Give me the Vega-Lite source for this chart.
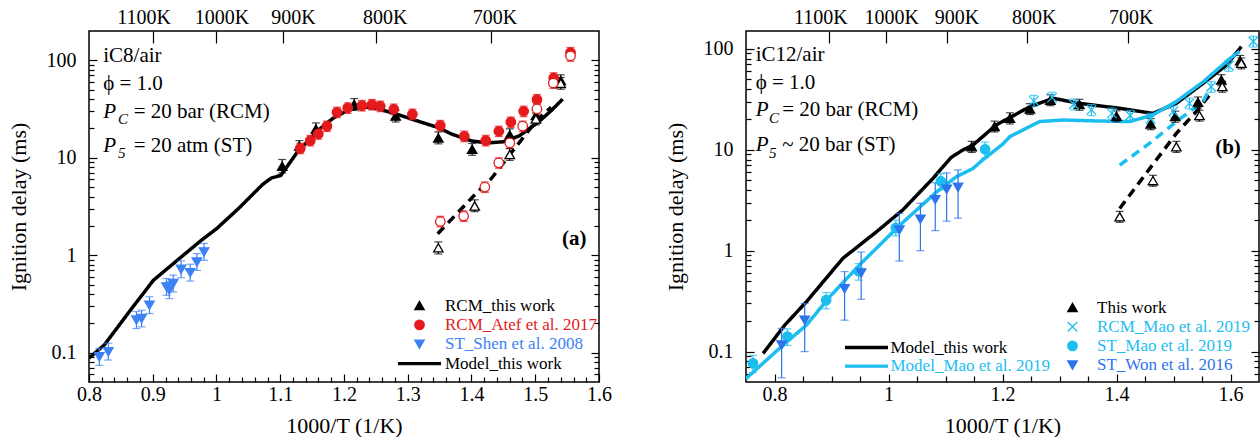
{
"$schema": "https://vega.github.io/schema/vega-lite/v6.json",
"background": "white",
"padding": {"left": 6, "top": 6, "right": 0, "bottom": 0},
"config": {
 "font": "Liberation Serif",
 "view": {"stroke": "black", "strokeWidth": 1.5},
 "axis": {"domain": false, "grid": false, "labelFont": "Liberation Serif", "titleFont": "Liberation Serif", "labelFontSize": 20, "titleFontSize": 22, "titleFontWeight": "normal", "labelColor": "black", "titleColor": "black", "tickColor": "black", "tickWidth": 1.2, "labelFlush": false, "labelOverlap": false},
 "legend": {"labelFont": "Liberation Serif", "labelFontSize": 17, "labelLimit": 400},
 "text": {"font": "Liberation Serif"}
},
"datasets": {
 "lines8": [
  {"s":"m","x":0.800,"y":0.088},{"s":"m","x":0.824,"y":0.120},{"s":"m","x":0.867,"y":0.284},{"s":"m","x":0.901,"y":0.553},
  {"s":"m","x":0.948,"y":1.00},{"s":"m","x":0.976,"y":1.42},{"s":"m","x":1.000,"y":1.87},{"s":"m","x":1.034,"y":2.99},
  {"s":"m","x":1.072,"y":5.3},{"s":"m","x":1.086,"y":6.2},{"s":"m","x":1.101,"y":6.6},{"s":"m","x":1.127,"y":11.5},
  {"s":"m","x":1.160,"y":19.3},{"s":"m","x":1.183,"y":25.5},{"s":"m","x":1.208,"y":31.2},{"s":"m","x":1.228,"y":33.4},
  {"s":"m","x":1.252,"y":32.0},{"s":"m","x":1.283,"y":28.0},{"s":"m","x":1.314,"y":24.0},{"s":"m","x":1.347,"y":20.5},
  {"s":"m","x":1.369,"y":17.5},{"s":"m","x":1.400,"y":14.9},{"s":"m","x":1.425,"y":14.2},{"s":"m","x":1.450,"y":14.6},
  {"s":"m","x":1.475,"y":16.8},{"s":"m","x":1.504,"y":23.0},{"s":"m","x":1.524,"y":30.0},{"s":"m","x":1.543,"y":40.0},
  {"s":"d","x":1.347,"y":1.66},{"s":"d","x":1.404,"y":4.1},{"s":"d","x":1.431,"y":6.1},{"s":"d","x":1.467,"y":12.3},
  {"s":"d","x":1.504,"y":25.0},{"s":"d","x":1.525,"y":33.0}
 ],
 "pts8": [
  {"s":"tw","x":1.103,"y":8.2,"lo":7.0,"hi":9.6},{"s":"tw","x":1.130,"y":13.2,"lo":11.5,"hi":15.0},{"s":"tw","x":1.156,"y":19.8,"lo":17.2,"hi":22.8},
  {"s":"tw","x":1.216,"y":35.2,"lo":30.6,"hi":40.5},{"s":"tw","x":1.281,"y":26.8,"lo":23.3,"hi":30.8},{"s":"tw","x":1.348,"y":16.0,"lo":13.9,"hi":18.4},
  {"s":"tw","x":1.401,"y":12.2,"lo":10.6,"hi":14.0},{"s":"tw","x":1.460,"y":17.2,"lo":15.0,"hi":19.8},{"s":"tw","x":1.501,"y":27.1,"lo":23.6,"hi":31.2},
  {"s":"tw","x":1.540,"y":62,"lo":54,"hi":71},
  {"s":"two","x":1.348,"y":1.19,"lo":1.03,"hi":1.37},{"s":"two","x":1.405,"y":3.2,"lo":2.8,"hi":3.7},{"s":"two","x":1.460,"y":10.8,"lo":9.4,"hi":12.4},
  {"s":"two","x":1.501,"y":25,"lo":21.8,"hi":28.8},{"s":"two","x":1.540,"y":58,"lo":50.5,"hi":66.7},
  {"s":"atef","x":1.1315,"y":12.5,"lo":11.0,"hi":14.1},{"s":"atef","x":1.1471,"y":15.0,"lo":13.2,"hi":17.0},{"s":"atef","x":1.1597,"y":17.6,"lo":15.5,"hi":19.9},
  {"s":"atef","x":1.1733,"y":21.1,"lo":18.6,"hi":23.8},{"s":"atef","x":1.189,"y":29.3,"lo":25.8,"hi":33.1},{"s":"atef","x":1.2058,"y":32.5,"lo":28.6,"hi":36.7},
  {"s":"atef","x":1.2282,"y":34.3,"lo":30.2,"hi":38.8},{"s":"atef","x":1.2439,"y":35.1,"lo":30.9,"hi":39.7},{"s":"atef","x":1.2569,"y":33.8,"lo":29.7,"hi":38.2},
  {"s":"atef","x":1.2781,"y":31.5,"lo":27.7,"hi":35.6},{"s":"atef","x":1.3073,"y":28.0,"lo":24.6,"hi":31.6},{"s":"atef","x":1.3511,"y":21.4,"lo":18.8,"hi":24.2},
  {"s":"atef","x":1.3887,"y":16.6,"lo":14.6,"hi":18.8},{"s":"atef","x":1.4223,"y":15.0,"lo":13.2,"hi":17.0},{"s":"atef","x":1.4428,"y":18.7,"lo":16.5,"hi":21.1},
  {"s":"atef","x":1.4617,"y":23.2,"lo":20.4,"hi":26.2},{"s":"atef","x":1.4818,"y":30.0,"lo":26.4,"hi":33.9},{"s":"atef","x":1.5027,"y":39.5,"lo":34.8,"hi":44.6},
  {"s":"atef","x":1.5289,"y":65.9,"lo":58.0,"hi":74.5},{"s":"atef","x":1.5553,"y":120,"lo":105.6,"hi":135.6},
  {"s":"atefo","x":1.3511,"y":2.22,"lo":1.95,"hi":2.51},{"s":"atefo","x":1.3877,"y":2.52,"lo":2.22,"hi":2.85},{"s":"atefo","x":1.4209,"y":5.0,"lo":4.4,"hi":5.65},
  {"s":"atefo","x":1.4428,"y":8.87,"lo":7.8,"hi":10.0},{"s":"atefo","x":1.4601,"y":14.2,"lo":12.5,"hi":16.0},{"s":"atefo","x":1.4803,"y":21.1,"lo":18.6,"hi":23.8},
  {"s":"atefo","x":1.5027,"y":31.7,"lo":27.9,"hi":35.8},{"s":"atefo","x":1.5283,"y":58.5,"lo":51.5,"hi":66.1},{"s":"atefo","x":1.5553,"y":111,"lo":97.7,"hi":125.4},
  {"s":"shen","x":0.8162,"y":0.0906,"lo":0.074,"hi":0.111},{"s":"shen","x":0.8303,"y":0.102,"lo":0.084,"hi":0.125},{"s":"shen","x":0.8744,"y":0.216,"lo":0.177,"hi":0.264},
  {"s":"shen","x":0.8825,"y":0.224,"lo":0.184,"hi":0.273},{"s":"shen","x":0.8949,"y":0.307,"lo":0.252,"hi":0.375},{"s":"shen","x":0.9216,"y":0.473,"lo":0.388,"hi":0.577},
  {"s":"shen","x":0.9259,"y":0.438,"lo":0.359,"hi":0.534},{"s":"shen","x":0.9321,"y":0.512,"lo":0.42,"hi":0.625},{"s":"shen","x":0.9445,"y":0.717,"lo":0.588,"hi":0.875},
  {"s":"shen","x":0.9588,"y":0.662,"lo":0.543,"hi":0.808},{"s":"shen","x":0.9693,"y":0.851,"lo":0.698,"hi":1.04},{"s":"shen","x":0.9805,"y":1.08,"lo":0.886,"hi":1.32}
 ],
 "ann8": [
  {"x":0.8223,"y":111,"t":"iC8/air"},{"x":0.8223,"y":57.2,"t":"ϕ = 1.0"},
  {"x":0.8700,"y":29.7,"t":"= 20 bar (RCM)"},{"x":0.8700,"y":13.3,"t":"= 20 atm (ST)"}
 ],
 "p8": [{"x":0.8223,"y":29.7,"t":"P"},{"x":0.8223,"y":13.3,"t":"P"}],
 "sub8": [{"x":0.8453,"y":25,"t":"C"},{"x":0.8453,"y":11.2,"t":"5"}],
 "lab8": [{"x":1.561,"y":1.45,"t":"(a)"}],
 "leg8": [
  {"entry":"RCM_this work","x":1.0,"y":1.0},{"entry":"RCM_Atef et al. 2017","x":1.0,"y":1.0},
  {"entry":"ST_Shen et al. 2008","x":1.0,"y":1.0},{"entry":"Model_this work","x":1.0,"y":1.0}
 ],
 "lines12": [
  {"s":"mb","x":0.780,"y":0.096},{"s":"mb","x":0.818,"y":0.183},{"s":"mb","x":0.856,"y":0.312},{"s":"mb","x":0.920,"y":0.84},
  {"s":"mb","x":0.979,"y":1.54},{"s":"mb","x":1.025,"y":2.53},{"s":"mb","x":1.078,"y":5.2},{"s":"mb","x":1.110,"y":8.4},
  {"s":"mb","x":1.130,"y":9.9},{"s":"mb","x":1.148,"y":11.1},{"s":"mb","x":1.189,"y":17.6},{"s":"mb","x":1.248,"y":26.7},
  {"s":"mb","x":1.289,"y":32.3},{"s":"mb","x":1.335,"y":28.8},{"s":"mb","x":1.406,"y":25.7},{"s":"mb","x":1.464,"y":22.9},
  {"s":"mb","x":1.505,"y":28.8},{"s":"mb","x":1.552,"y":45.5},{"s":"mb","x":1.593,"y":69},{"s":"mb","x":1.619,"y":105},
  {"s":"mc","x":0.750,"y":0.054},{"s":"mc","x":0.815,"y":0.116},{"s":"mc","x":0.856,"y":0.183},{"s":"mc","x":0.897,"y":0.35},
  {"s":"mc","x":0.952,"y":0.75},{"s":"mc","x":1.020,"y":1.79},{"s":"mc","x":1.084,"y":3.8},{"s":"mc","x":1.119,"y":5.4},
  {"s":"mc","x":1.148,"y":6.5},{"s":"mc","x":1.166,"y":8.0},{"s":"mc","x":1.200,"y":11.3},{"s":"mc","x":1.213,"y":13.5},
  {"s":"mc","x":1.265,"y":19.0},{"s":"mc","x":1.306,"y":19.7},{"s":"mc","x":1.360,"y":19.3},{"s":"mc","x":1.423,"y":19.0},
  {"s":"mc","x":1.464,"y":22.1},{"s":"mc","x":1.505,"y":30},{"s":"mc","x":1.552,"y":47},{"s":"mc","x":1.599,"y":80},{"s":"mc","x":1.616,"y":94},
  {"s":"db","x":1.4056,"y":2.62},{"s":"db","x":1.4583,"y":6.5},{"s":"db","x":1.505,"y":14.5},{"s":"db","x":1.540,"y":23.9},{"s":"db","x":1.5635,"y":34.9},
  {"s":"dc","x":1.4056,"y":7.05},{"s":"dc","x":1.4583,"y":11.6},{"s":"dc","x":1.505,"y":19.0},{"s":"dc","x":1.5518,"y":30},{"s":"dc","x":1.5635,"y":40}
 ],
 "pts12": [
  {"s":"tw","x":1.146,"y":10.7,"lo":9.4,"hi":12.1},{"s":"tw","x":1.186,"y":17.0,"lo":15.0,"hi":19.2},{"s":"tw","x":1.213,"y":20.5,"lo":18.0,"hi":23.2},
  {"s":"tw","x":1.248,"y":25.3,"lo":22.3,"hi":28.6},{"s":"tw","x":1.284,"y":31.0,"lo":27.3,"hi":35.0},{"s":"tw","x":1.335,"y":28.0,"lo":24.6,"hi":31.6},
  {"s":"tw","x":1.400,"y":21.5,"lo":18.9,"hi":24.3},{"s":"tw","x":1.460,"y":18.0,"lo":15.8,"hi":20.3},{"s":"tw","x":1.503,"y":21.3,"lo":18.7,"hi":24.1},
  {"s":"tw","x":1.543,"y":29.5,"lo":26.0,"hi":33.3},{"s":"tw","x":1.584,"y":49,"lo":43.1,"hi":55.4},{"s":"tw","x":1.617,"y":76,"lo":66.9,"hi":85.9},
  {"s":"two","x":1.4056,"y":2.17,"lo":1.91,"hi":2.45},{"s":"two","x":1.464,"y":4.94,"lo":4.35,"hi":5.58},{"s":"two","x":1.505,"y":10.7,"lo":9.4,"hi":12.1},
  {"s":"two","x":1.5456,"y":21.8,"lo":19.2,"hi":24.6},{"s":"two","x":1.5856,"y":42.2,"lo":37.1,"hi":47.7},{"s":"two","x":1.619,"y":71.8,"lo":63.2,"hi":81.1},
  {"s":"maor","x":1.255,"y":30.5,"lo":26.8,"hi":34.5},{"s":"maor","x":1.287,"y":32.8,"lo":28.9,"hi":37.1},{"s":"maor","x":1.325,"y":28.2,"lo":24.8,"hi":31.9},
  {"s":"maor","x":1.356,"y":24.8,"lo":21.8,"hi":28.0},{"s":"maor","x":1.392,"y":22.9,"lo":20.2,"hi":25.9},{"s":"maor","x":1.424,"y":21.8,"lo":19.2,"hi":24.6},
  {"s":"maor","x":1.460,"y":20.3,"lo":17.9,"hi":22.9},{"s":"maor","x":1.500,"y":24.0,"lo":21.1,"hi":27.1},{"s":"maor","x":1.528,"y":28.8,"lo":25.3,"hi":32.5},
  {"s":"maor","x":1.566,"y":42,"lo":37,"hi":47.5},{"s":"maor","x":1.597,"y":68,"lo":59.8,"hi":76.8},{"s":"maor","x":1.640,"y":118,"lo":104,"hi":133},
  {"s":"maos","x":0.7622,"y":0.0766,"lo":0.062,"hi":0.092},{"s":"maos","x":0.8227,"y":0.141,"lo":0.115,"hi":0.168},{"s":"maos","x":0.8906,"y":0.324,"lo":0.265,"hi":0.385},
  {"s":"maos","x":0.9476,"y":0.627,"lo":0.51,"hi":0.745},{"s":"maos","x":1.0129,"y":1.68,"lo":1.4,"hi":2.0},{"s":"maos","x":1.0918,"y":4.87,"lo":4.0,"hi":5.8},
  {"s":"maos","x":1.1694,"y":10.1,"lo":8.3,"hi":11.9},
  {"s":"won","x":0.8125,"y":0.116,"lo":0.055,"hi":0.17},{"s":"won","x":0.853,"y":0.205,"lo":0.10,"hi":0.30},{"s":"won","x":0.923,"y":0.42,"lo":0.205,"hi":0.62},
  {"s":"won","x":0.952,"y":0.6,"lo":0.33,"hi":0.97},{"s":"won","x":1.019,"y":1.6,"lo":0.79,"hi":2.34},{"s":"won","x":1.056,"y":2.05,"lo":1.0,"hi":2.95},
  {"s":"won","x":1.082,"y":3.2,"lo":1.58,"hi":4.7},{"s":"won","x":1.102,"y":4.05,"lo":1.96,"hi":5.9},{"s":"won","x":1.122,"y":4.25,"lo":2.1,"hi":6.3}
 ],
 "ann12": [
  {"x":0.767,"y":86.9,"t":"iC12/air"},{"x":0.767,"y":45.5,"t":"ϕ = 1.0"},
  {"x":0.8135,"y":24.7,"t":"= 20 bar (RCM)"},{"x":0.8135,"y":11.1,"t":"~ 20 bar (ST)"}
 ],
 "p12": [{"x":0.767,"y":24.7,"t":"P"},{"x":0.767,"y":11.1,"t":"P"}],
 "sub12": [{"x":0.7905,"y":20.5,"t":"C"},{"x":0.7905,"y":9.2,"t":"5"}],
 "lab12": [{"x":1.5956,"y":10.3,"t":"(b)"}],
 "legm12": [{"entry":"Model_this work","x":1.0,"y":1.0},{"entry":"Model_Mao et al. 2019","x":1.0,"y":1.0}],
 "legd12": [
  {"entry":"This work","x":1.0,"y":1.0},{"entry":"RCM_Mao et al. 2019","x":1.0,"y":1.0},
  {"entry":"ST_Mao et al. 2019","x":1.0,"y":1.0},{"entry":"ST_Won et al. 2016","x":1.0,"y":1.0}
 ]
},
"hconcat": [
 {
  "width": 510, "height": 351,
  "encoding": {
   "x": {"field": "x", "type": "quantitative", "scale": {"domain": [0.8, 1.6], "nice": false, "zero": false}, "axis": null},
   "y": {"field": "y", "type": "quantitative", "scale": {"type": "log", "domain": [0.05, 200], "nice": false}, "axis": null}
  },
  "layer": [
   {"data": {"name": "lines8"}, "mark": {"type": "line", "strokeWidth": 3.5, "clip": true},
    "encoding": {
     "x": {"field": "x", "type": "quantitative", "scale": {"domain": [0.8, 1.6], "nice": false, "zero": false},
       "axis": {"orient": "bottom", "values": [0.8,0.9,1,1.1,1.2,1.3,1.4,1.5,1.6], "format": "~g", "tickSize": -8, "labelPadding": 10, "title": "1000/T (1/K)", "titlePadding": 11}},
     "y": {"field": "y", "type": "quantitative", "scale": {"type": "log", "domain": [0.05, 200], "nice": false},
       "axis": {"orient": "left", "values": [0.1,1,10,100], "format": "~g", "tickSize": -8, "labelPadding": 21, "title": "Ignition delay (ms)", "titlePadding": 16}},
     "color": {"field": "s", "type": "nominal", "scale": {"domain": ["m","d"], "range": ["black","black"]}, "legend": null},
     "strokeDash": {"field": "s", "type": "nominal", "scale": {"domain": ["m","d"], "range": [[1,0],[9,6]]}, "legend": null}
    }},
   {"data": {"name": "pts8"}, "mark": {"type": "errorbar", "ticks": {"size": 8}, "thickness": 1.2},
    "encoding": {
     "x": {"field": "x", "type": "quantitative", "scale": {"domain": [0.8, 1.6], "nice": false, "zero": false},
       "axis": {"orient": "bottom", "values": [0.82,0.84,0.86,0.88,0.92,0.94,0.96,0.98,1.02,1.04,1.06,1.08,1.12,1.14,1.16,1.18,1.22,1.24,1.26,1.28,1.32,1.34,1.36,1.38,1.42,1.44,1.46,1.48,1.52,1.54,1.56,1.58], "labels": false, "tickSize": -5, "title": null}},
     "y": {"field": "lo", "type": "quantitative", "scale": {"type": "log", "domain": [0.05, 200], "nice": false},
       "axis": {"orient": "left", "values": [0.06,0.07,0.08,0.09,0.2,0.3,0.4,0.5,0.6,0.7,0.8,0.9,2,3,4,5,6,7,8,9,20,30,40,50,60,70,80,90], "labels": false, "tickSize": -5, "title": null}},
     "y2": {"field": "hi"},
     "color": {"field": "s", "type": "nominal", "scale": {"domain": ["tw","two","atef","atefo","shen"], "range": ["black","black","#e41a1c","#e41a1c","#3c82f5"]}, "legend": null}
    }},
   {"data": {"name": "pts8"}, "mark": {"type": "point", "size": 90, "strokeWidth": 1.3, "opacity": 1},
    "encoding": {
     "x": {"field": "x", "type": "quantitative", "scale": {"domain": [0.8, 1.6], "nice": false, "zero": false},
       "axis": {"orient": "top", "values": [0.9,1.0,1.104,1.25,1.431], "labels": false, "tickSize": -12, "title": null}},
     "y": {"field": "y", "type": "quantitative", "scale": {"type": "log", "domain": [0.05, 200], "nice": false},
       "axis": {"orient": "right", "values": [0.1,1,10,100], "labels": false, "tickSize": -8, "title": null}},
     "shape": {"field": "s", "type": "nominal", "scale": {"domain": ["tw","two","atef","atefo","shen"], "range": ["triangle-up","triangle-up","circle","circle","triangle-down"]}, "legend": null},
     "fill": {"field": "s", "type": "nominal", "scale": {"domain": ["tw","two","atef","atefo","shen"], "range": ["black","white","#e41a1c","white","#3c82f5"]}, "legend": null},
     "stroke": {"field": "s", "type": "nominal", "scale": {"domain": ["tw","two","atef","atefo","shen"], "range": ["black","black","#e41a1c","#e41a1c","#3c82f5"]}, "legend": null}
    }},
   {"data": {"name": "ann8"}, "mark": {"type": "text", "align": "left", "baseline": "middle", "fontSize": 21, "color": "black"},
    "encoding": {
     "x": {"field": "x", "type": "quantitative", "scale": {"domain": [0.8, 1.6], "nice": false, "zero": false},
       "axis": {"orient": "top", "values": [0.8855,1.0077,1.12,1.2638,1.4362], "ticks": false, "labelPadding": 4, "title": null,
         "labelExpr": "datum.value < 0.95 ? '1100K' : datum.value < 1.06 ? '1000K' : datum.value < 1.2 ? '900K' : datum.value < 1.35 ? '800K' : '700K'"}},
     "y": {"field": "y", "type": "quantitative", "scale": {"type": "log", "domain": [0.05, 200], "nice": false},
       "axis": {"orient": "right", "values": [0.06,0.07,0.08,0.09,0.2,0.3,0.4,0.5,0.6,0.7,0.8,0.9,2,3,4,5,6,7,8,9,20,30,40,50,60,70,80,90], "labels": false, "tickSize": -5, "title": null}},
     "text": {"field": "t"}
    }},
   {"data": {"name": "p8"}, "mark": {"type": "text", "align": "left", "baseline": "middle", "fontSize": 21, "fontStyle": "italic", "color": "black"},
    "encoding": {"text": {"field": "t"}}},
   {"data": {"name": "sub8"}, "mark": {"type": "text", "align": "left", "baseline": "middle", "fontSize": 15, "fontStyle": "italic", "color": "black"},
    "encoding": {"text": {"field": "t"}}},
   {"data": {"name": "lab8"}, "mark": {"type": "text", "align": "center", "baseline": "middle", "fontSize": 21, "fontWeight": "bold", "color": "black"},
    "encoding": {"text": {"field": "t"}}},
   {"data": {"name": "leg8"}, "mark": {"type": "point", "opacity": 0, "filled": true},
    "encoding": {
     "color": {"field": "entry", "type": "nominal",
      "scale": {"domain": ["RCM_this work","RCM_Atef et al. 2017","ST_Shen et al. 2008","Model_this work"], "range": ["black","#e41a1c","#3c82f5","black"]},
      "legend": {"orient": "none", "legendX": 322, "legendY": 266, "title": null, "symbolSize": 90, "symbolStrokeWidth": 1.2, "labelOffset": 17, "rowPadding": 1.4, "padding": 0, "symbolOpacity": 1,
       "symbolType": {"expr": "datum.value === 'Model_this work' ? 'M-4.4,-0.22H4.4V0.22H-4.4Z' : datum.value === 'RCM_Atef et al. 2017' ? 'circle' : datum.value === 'ST_Shen et al. 2008' ? 'triangle-down' : 'triangle-up'"},
       "symbolStrokeColor": {"expr": "datum.value === 'RCM_Atef et al. 2017' ? '#e41a1c' : datum.value === 'ST_Shen et al. 2008' ? '#3c82f5' : 'black'"},
       "labelColor": {"expr": "datum.value === 'RCM_Atef et al. 2017' ? '#e41a1c' : datum.value === 'ST_Shen et al. 2008' ? '#3c82f5' : 'black'"}
      }}
    }}
  ],
  "resolve": {"axis": {"x": "independent", "y": "independent"}, "scale": {"color": "independent", "fill": "independent", "stroke": "independent", "shape": "independent", "strokeDash": "independent"}}
 },
 {
  "width": 513, "height": 351,
  "encoding": {
   "x": {"field": "x", "type": "quantitative", "scale": {"domain": [0.75, 1.65], "nice": false, "zero": false}, "axis": null},
   "y": {"field": "y", "type": "quantitative", "scale": {"type": "log", "domain": [0.05, 150], "nice": false}, "axis": null}
  },
  "layer": [
   {"data": {"name": "lines12"}, "mark": {"type": "line", "strokeWidth": 3.5, "clip": true},
    "encoding": {
     "x": {"field": "x", "type": "quantitative", "scale": {"domain": [0.75, 1.65], "nice": false, "zero": false},
       "axis": {"orient": "bottom", "values": [0.8,1,1.2,1.4,1.6], "format": "~g", "tickSize": -8, "labelPadding": 10, "title": "1000/T (1/K)", "titlePadding": 11}},
     "y": {"field": "y", "type": "quantitative", "scale": {"type": "log", "domain": [0.05, 150], "nice": false},
       "axis": {"orient": "left", "values": [0.1,1,10,100], "format": "~g", "tickSize": -8, "labelPadding": 21, "title": "Ignition delay (ms)", "titlePadding": 16}},
     "color": {"field": "s", "type": "nominal", "scale": {"domain": ["mb","mc","db","dc"], "range": ["black","#1cbef0","black","#1cbef0"]}, "legend": null},
     "strokeDash": {"field": "s", "type": "nominal", "scale": {"domain": ["mb","mc","db","dc"], "range": [[1,0],[1,0],[9,6],[9,6]]}, "legend": null}
    }},
   {"data": {"name": "pts12"}, "mark": {"type": "errorbar", "ticks": {"size": 8}, "thickness": 1.2},
    "encoding": {
     "x": {"field": "x", "type": "quantitative", "scale": {"domain": [0.75, 1.65], "nice": false, "zero": false},
       "axis": {"orient": "bottom", "values": [0.85,0.9,0.95,1.05,1.1,1.15,1.25,1.3,1.35,1.45,1.5,1.55], "labels": false, "tickSize": -6, "title": null}},
     "y": {"field": "lo", "type": "quantitative", "scale": {"type": "log", "domain": [0.05, 150], "nice": false},
       "axis": {"orient": "left", "values": [0.06,0.07,0.08,0.09,0.2,0.3,0.4,0.5,0.6,0.7,0.8,0.9,2,3,4,5,6,7,8,9,20,30,40,50,60,70,80,90], "labels": false, "tickSize": -5, "title": null}},
     "y2": {"field": "hi"},
     "color": {"field": "s", "type": "nominal", "scale": {"domain": ["tw","two","maor","maos","won"], "range": ["black","black","#1cbef0","#1cbef0","#2d74ee"]}, "legend": null}
    }},
   {"data": {"name": "pts12"}, "mark": {"type": "point", "size": 90, "strokeWidth": 1.3, "opacity": 1},
    "encoding": {
     "x": {"field": "x", "type": "quantitative", "scale": {"domain": [0.75, 1.65], "nice": false, "zero": false},
       "axis": {"orient": "top", "values": [0.896,0.996,1.103,1.243,1.421], "labels": false, "tickSize": -12, "title": null}},
     "y": {"field": "y", "type": "quantitative", "scale": {"type": "log", "domain": [0.05, 150], "nice": false},
       "axis": {"orient": "right", "values": [0.1,1,10,100], "labels": false, "tickSize": -8, "title": null}},
     "shape": {"field": "s", "type": "nominal", "scale": {"domain": ["tw","two","maor","maos","won"], "range": ["triangle-up","triangle-up","M-1,-1L1,1M-1,1L1,-1","circle","triangle-down"]}, "legend": null},
     "fill": {"field": "s", "type": "nominal", "scale": {"domain": ["tw","two","maor","maos","won"], "range": ["black","white","transparent","#1cbef0","#2d74ee"]}, "legend": null},
     "stroke": {"field": "s", "type": "nominal", "scale": {"domain": ["tw","two","maor","maos","won"], "range": ["black","black","#1cbef0","#1cbef0","#2d74ee"]}, "legend": null}
    }},
   {"data": {"name": "ann12"}, "mark": {"type": "text", "align": "left", "baseline": "middle", "fontSize": 21, "color": "black"},
    "encoding": {
     "x": {"field": "x", "type": "quantitative", "scale": {"domain": [0.75, 1.65], "nice": false, "zero": false},
       "axis": {"orient": "top", "values": [0.8804,1.0046,1.1193,1.2546,1.4249], "ticks": false, "labelPadding": 4, "title": null,
         "labelExpr": "datum.value < 0.95 ? '1100K' : datum.value < 1.06 ? '1000K' : datum.value < 1.2 ? '900K' : datum.value < 1.35 ? '800K' : '700K'"}},
     "y": {"field": "y", "type": "quantitative", "scale": {"type": "log", "domain": [0.05, 150], "nice": false},
       "axis": {"orient": "right", "values": [0.06,0.07,0.08,0.09,0.2,0.3,0.4,0.5,0.6,0.7,0.8,0.9,2,3,4,5,6,7,8,9,20,30,40,50,60,70,80,90], "labels": false, "tickSize": -5, "title": null}},
     "text": {"field": "t"}
    }},
   {"data": {"name": "p12"}, "mark": {"type": "text", "align": "left", "baseline": "middle", "fontSize": 21, "fontStyle": "italic", "color": "black"},
    "encoding": {"text": {"field": "t"}}},
   {"data": {"name": "sub12"}, "mark": {"type": "text", "align": "left", "baseline": "middle", "fontSize": 15, "fontStyle": "italic", "color": "black"},
    "encoding": {"text": {"field": "t"}}},
   {"data": {"name": "lab12"}, "mark": {"type": "text", "align": "center", "baseline": "middle", "fontSize": 21, "fontWeight": "bold", "color": "black"},
    "encoding": {"text": {"field": "t"}}},
   {"data": {"name": "legm12"}, "mark": {"type": "point", "opacity": 0, "filled": true},
    "encoding": {
     "color": {"field": "entry", "type": "nominal",
      "scale": {"domain": ["Model_this work","Model_Mao et al. 2019"], "range": ["black","#1cbef0"]},
      "legend": {"orient": "none", "legendX": 112, "legendY": 308, "title": null, "symbolSize": 90, "symbolStrokeWidth": 1.2, "labelOffset": 15.5, "rowPadding": 0.7, "padding": 0, "symbolOpacity": 1,
       "symbolType": "M-4.4,-0.22H4.4V0.22H-4.4Z",
       "symbolStrokeColor": {"expr": "datum.value === 'Model_this work' ? 'black' : '#1cbef0'"},
       "labelColor": {"expr": "datum.value === 'Model_this work' ? 'black' : '#1cbef0'"}
      }}
    }},
   {"data": {"name": "legd12"}, "mark": {"type": "point", "opacity": 0, "filled": true},
    "encoding": {
     "color": {"field": "entry", "type": "nominal",
      "scale": {"domain": ["This work","RCM_Mao et al. 2019","ST_Mao et al. 2019","ST_Won et al. 2016"], "range": ["black","#1cbef0","#1cbef0","#2d74ee"]},
      "legend": {"orient": "none", "legendX": 318, "legendY": 268, "title": null, "symbolSize": 90, "symbolStrokeWidth": 1.3, "labelOffset": 16, "rowPadding": 1.2, "padding": 0, "symbolOpacity": 1,
       "symbolType": {"expr": "datum.value === 'RCM_Mao et al. 2019' ? 'M-1,-1L1,1M-1,1L1,-1' : datum.value === 'ST_Mao et al. 2019' ? 'circle' : datum.value === 'ST_Won et al. 2016' ? 'triangle-down' : 'triangle-up'"},
       "symbolStrokeColor": {"expr": "datum.value === 'This work' ? 'black' : datum.value === 'ST_Won et al. 2016' ? '#2d74ee' : '#1cbef0'"},
       "labelColor": {"expr": "datum.value === 'This work' ? 'black' : datum.value === 'ST_Won et al. 2016' ? '#2d74ee' : '#1cbef0'"}
      }}
    }}
  ],
  "resolve": {"axis": {"x": "independent", "y": "independent"}, "scale": {"color": "independent", "fill": "independent", "stroke": "independent", "shape": "independent", "strokeDash": "independent"}}
 }
],
"spacing": 50,
"resolve": {"scale": {"color": "independent"}, "legend": {"color": "independent"}}
}
